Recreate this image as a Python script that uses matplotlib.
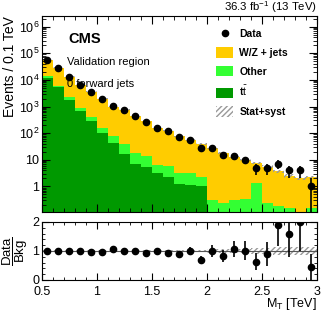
import numpy as np
import matplotlib
matplotlib.use("Agg")
from matplotlib import pyplot as plt
from matplotlib.patches import Patch
from matplotlib.lines import Line2D
from matplotlib.ticker import MultipleLocator, LogLocator, NullFormatter, FixedLocator, FuncFormatter

plt.rcParams['font.family'] = ['Liberation Sans', 'DejaVu Sans']
plt.rcParams['mathtext.fontset'] = 'custom'
plt.rcParams['mathtext.rm'] = 'Liberation Sans'
plt.rcParams['mathtext.it'] = 'Liberation Sans:italic'
plt.rcParams['mathtext.bf'] = 'Liberation Sans:bold'

# bins in M_T [TeV], 0.1 TeV wide
mt_lo = [0.5, 0.6, 0.7, 0.8, 0.9, 1.0, 1.1, 1.2, 1.3, 1.4, 1.5, 1.6, 1.7,
         1.8, 1.9, 2.0, 2.1, 2.2, 2.3, 2.4, 2.5, 2.6, 2.7, 2.8, 2.9]
bin_w = 0.1

# observed events
data = [56000, 29000, 13300, 6500, 3450, 1900, 1070, 760, 430, 263, 156, 116, 69,
        55, 27, 27, 15, 14, 10, 5, 5, 7, 4, 4, 1]

# backgrounds (events / 0.1 TeV)
ttbar = [11500, 5200, 1780, 690, 275, 100, 43, 16, 7, 5.4, 3.2, 2.2, 1.26,
         1.1, 1.05, 0, 0, 0, 0, 0, 0, 0, 0, 0, 0]
other = [2500, 800, 420, 220, 115, 55, 36, 24, 11, 9.1, 3.3, 3.8, 1.9,
         2.1, 1.15, 0.32, 0.24, 0.30, 0.34, 1.4, 0.24, 0.18, 0.155, 0.1, 0.155]
wz = [42000, 23000, 11000, 5590, 3240, 1825, 911, 720, 412, 271, 150, 119, 73,
      52, 37, 26.7, 17.8, 12.9, 9.5, 6.5, 5.3, 3.5, 2.35, 1.9, 2.05]

# relative stat+syst uncertainty on the total background
unc_rel = [0.03, 0.03, 0.03, 0.03, 0.03, 0.03, 0.03, 0.03, 0.03, 0.03, 0.04, 0.04, 0.05,
           0.05, 0.05, 0.06, 0.07, 0.08, 0.08, 0.09, 0.12, 0.14, 0.14, 0.15, 0.15]

x = np.array(mt_lo) + bin_w / 2
data = np.array(data, dtype=float)
ttbar = np.array(ttbar)
other = np.array(other)
wz = np.array(wz)
unc_rel = np.array(unc_rel)
total = ttbar + other + wz
data_err = np.sqrt(data)
ratio = data / total
ratio_err = data_err / total

c_wz = '#ffcc00'
c_other = '#33ff33'
c_tt = '#009900'


def log_label(v, pos):
    if v == 1:
        return '1'
    if v == 10:
        return '10'
    return r'10$^{%d}$' % round(np.log10(v))


fig = plt.figure(figsize=(3.32, 3.19), dpi=100)
ax = fig.add_axes([0.1265, 0.3354, 0.8283, 0.6144])
axr = fig.add_axes([0.1265, 0.1223, 0.8283, 0.1818])

# main panel
ax.bar(x, ttbar, width=bin_w, color=c_tt, linewidth=0)
ax.bar(x, other, width=bin_w, bottom=ttbar, color=c_other, linewidth=0)
ax.bar(x, wz, width=bin_w, bottom=ttbar + other, color=c_wz, linewidth=0)
ax.bar(x, 2 * total * unc_rel, width=bin_w, bottom=total * (1 - unc_rel),
       fill=False, hatch='//////', edgecolor='#999999', linewidth=0)
ax.errorbar(x, data, yerr=data_err, fmt='o', color='black', markersize=4.5,
            elinewidth=1.2, capsize=0)

ax.set_yscale('log')
ax.set_xlim(0.5, 3.0)
ax.set_ylim(0.11, 2.5e6)
ax.set_ylabel('Events / 0.1 TeV', fontsize=10, loc='top', labelpad=1)
ax.xaxis.set_major_locator(MultipleLocator(0.5))
ax.xaxis.set_minor_locator(MultipleLocator(0.1))
ax.set_xticklabels([])
ax.yaxis.set_major_locator(LogLocator(base=10, numticks=12))
ax.yaxis.set_major_formatter(FuncFormatter(log_label))
ax.yaxis.set_minor_locator(LogLocator(base=10, subs=np.arange(2, 10), numticks=12))
ax.yaxis.set_minor_formatter(NullFormatter())
ax.tick_params(which='both', direction='in', top=True, right=True, labelsize=9, pad=2)
ax.tick_params(which='major', length=6)
ax.tick_params(which='minor', length=3)

ax.text(0.095, 0.885, 'CMS', transform=ax.transAxes, fontsize=10.5, fontweight='bold', va='center')
ax.text(0.09, 0.765, 'Validation region', transform=ax.transAxes, fontsize=8, va='center')
ax.text(0.09, 0.655, '0 forward jets', transform=ax.transAxes, fontsize=8, va='center')
ax.text(1.0, 1.004, r'36.3 fb$^{-1}$ (13 TeV)', transform=ax.transAxes, fontsize=8.2,
        ha='right', va='bottom')

handles = [
    Line2D([0], [0], marker='o', color='black', markersize=4.5, linewidth=1.2),
    Patch(facecolor=c_wz, linewidth=0),
    Patch(facecolor=c_other, linewidth=0),
    Patch(facecolor=c_tt, linewidth=0),
    Patch(facecolor='white', hatch='//////', edgecolor='#999999', linewidth=0),
]
labels = ['Data', 'W/Z + jets', 'Other', r't$\bar{\mathrm{t}}$', 'Stat+syst']
leg = ax.legend(handles, labels, loc='upper left', bbox_to_anchor=(0.6, 0.985),
                frameon=False, prop={'size': 7.5, 'weight': 'bold'},
                handlelength=1.6, handleheight=1.2, labelspacing=0.75, handletextpad=0.6)
leg.legend_handles[0].set_linestyle('none')

# ratio panel
axr.axhline(1.0, color='#555555', linewidth=0.8)
axr.bar(x, 2 * unc_rel, width=bin_w, bottom=1 - unc_rel, fill=False,
        hatch='//////', edgecolor='#999999', linewidth=0)
axr.errorbar(x, ratio, yerr=ratio_err, fmt='o', color='black', markersize=4.5,
             elinewidth=1.2, capsize=0)
axr.set_xlim(0.5, 3.0)
axr.set_ylim(0, 2)
axr.xaxis.set_minor_locator(MultipleLocator(0.1))
axr.set_xticks([0.5, 1, 1.5, 2, 2.5, 3])
axr.set_xticklabels(['0.5', '1', '1.5', '2', '2.5', '3'])
axr.yaxis.set_major_locator(FixedLocator([0, 1, 2]))
axr.yaxis.set_minor_locator(MultipleLocator(0.2))
axr.tick_params(which='both', direction='in', top=True, right=True, labelsize=9, pad=2)
axr.tick_params(axis='x', pad=4)
axr.tick_params(which='major', length=5)
axr.tick_params(which='minor', length=2.5)
axr.set_ylabel(r'$\dfrac{\mathrm{Data}}{\mathrm{Bkg}}$', fontsize=9.5)
axr.yaxis.set_label_coords(-0.045, 0.5)
axr.set_xlabel(r'M$_{\mathrm{T}}$ [TeV]', fontsize=9, loc='right', labelpad=-1)

fig.savefig('out.png', dpi=100)
